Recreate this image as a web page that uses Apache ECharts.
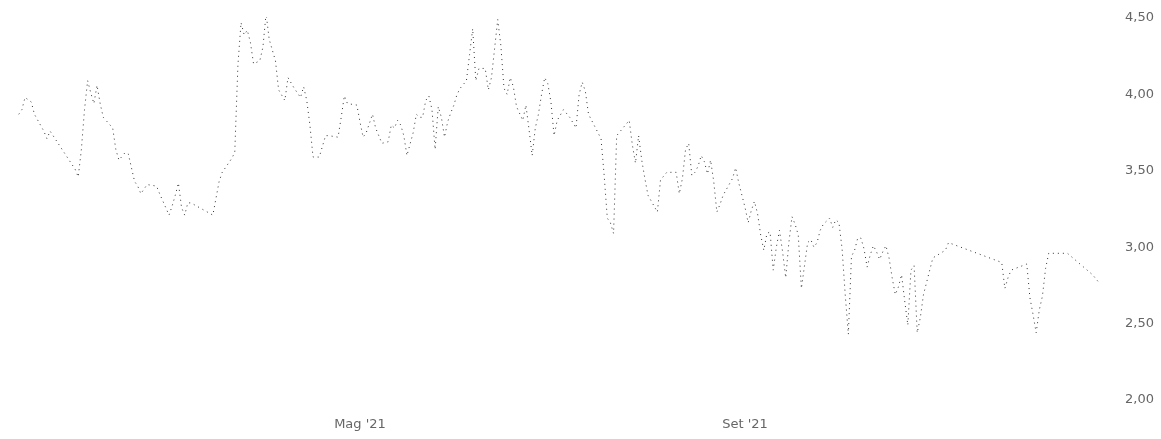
<!DOCTYPE html>
<html>
<head>
<meta charset="utf-8">
<script src="https://cdn.jsdelivr.net/npm/echarts@6/dist/echarts.min.js"></script>
<style>
html,body{margin:0;padding:0;background:#fff;}
#chart{width:1161px;height:439px;}
</style>
</head>
<body>
<div id="chart"></div>
<script>
// Italian month abbreviations used on the date axis
const monthNames = ['Gen','Feb','Mar','Apr','Mag','Giu','Lug','Ago','Set','Ott','Nov','Dic'];
// x-axis label positions (year 2021, month index, day)
const xTickMonths = [[2021, 4, 1], [2021, 8, 1]];
// y-axis tick values
const yTicks = [2.0, 2.5, 3.0, 3.5, 4.0, 4.5];
// days since 1 Jan 2021
const dayOffsets = [
 11,12,13,15,16,19,20,21,29,30,31,32,33,34,35,36,37,38,41,42,43,45,46,47,48,49,50,51,52,55,56,
 59,60,61,62,63,64,65,66,73,74,75,76,79,80,81,82,83,84,85,86,88,89,90,91,93,94,96,97,99,100,
 101,102,103,104,105,107,108,109,110,113,114,115,116,119,120,121,122,123,124,125,127,129,130,
 131,132,133,134,135,137,138,139,140,141,142,143,144,145,146,147,148,149,150,151,152,154,155,
 156,157,158,160,161,162,163,164,165,166,167,168,169,170,172,173,174,175,176,177,178,179,180,
 181,182,183,185,187,189,190,191,192,193,197,198,199,200,201,202,206,207,208,209,210,211,212,
 215,216,218,221,222,223,224,225,226,227,228,229,230,231,232,233,234,235,236,239,240,241,242,
 243,244,245,246,247,248,249,250,251,252,253,254,255,256,257,258,259,260,261,262,263,264,265,
 266,267,268,270,271,272,273,274,275,276,277,278,279,280,281,282,283,284,285,286,287,288,289,
 290,291,292,293,294,295,296,297,298,299,300,301,302,303,307,308,325,326,327,328,333,334,335,
 336,337,338,339,340,346,354,356
];
const prices = [
 3.87,3.90,3.98,3.95,3.87,3.76,3.71,3.76,3.51,3.46,3.64,3.90,4.09,4.01,3.94,4.06,3.94,3.85,3.78,3.64,3.57,3.62,3.61,3.52,3.43,3.40,3.35,3.38,3.41,3.40,3.35,
 3.21,3.27,3.34,3.42,3.26,3.21,3.29,3.29,3.21,3.32,3.43,3.49,3.58,3.62,4.19,4.47,4.39,4.42,4.34,4.20,4.22,4.31,4.53,4.36,4.22,4.03,3.96,4.11,4.04,4.01,
 3.98,4.05,3.96,3.80,3.59,3.59,3.66,3.73,3.73,3.72,3.85,3.99,3.94,3.93,3.82,3.72,3.75,3.81,3.87,3.78,3.68,3.69,3.80,
 3.78,3.83,3.80,3.73,3.60,3.75,3.87,3.85,3.85,3.96,3.99,3.90,3.64,3.92,3.85,3.72,3.82,3.88,3.93,4.00,4.04,4.09,4.26,
 4.43,4.09,4.17,4.17,4.03,4.11,4.30,4.49,4.32,4.04,4.00,4.11,4.05,3.92,3.83,3.93,3.77,3.60,3.78,3.87,4.00,4.11,4.07,
 3.95,3.73,3.83,3.90,3.85,3.78,4.00,4.08,4.02,3.87,3.71,3.47,3.19,3.16,3.09,3.73,3.83,3.67,3.55,3.73,3.57,3.45,3.34,
 3.23,3.44,3.49,3.49,3.35,3.45,3.64,3.68,3.47,3.49,3.53,3.60,3.56,3.48,3.57,3.43,3.23,3.28,3.34,3.45,3.52,3.42,3.34,
 3.26,3.16,3.24,3.30,3.22,3.08,2.98,3.09,3.10,2.85,3.00,3.11,2.97,2.80,3.03,3.20,3.15,3.08,2.73,2.88,3.03,3.05,3.00,
 3.03,3.11,3.15,3.19,3.13,3.18,3.16,2.99,2.69,2.43,2.94,2.98,3.06,3.06,2.99,2.87,2.95,3.01,2.97,2.92,2.97,3.01,2.93,
 2.80,2.69,2.74,2.82,2.65,2.49,2.85,2.88,2.44,2.54,2.69,2.77,2.85,2.93,2.98,3.03,2.90,2.73,2.80,2.85,2.89,2.67,2.56,
 2.44,2.59,2.68,2.86,2.96,2.96,2.82,2.77
];

const DAY = 86400000;
const base = new Date(2021, 0, 1).getTime();
const seriesData = dayOffsets.map((d, i) => [base + d * DAY, prices[i]]);
const xLabelValues = xTickMonths.map(m => new Date(m[0], m[1], m[2]).getTime());

const chart = echarts.init(document.getElementById('chart'), null, {renderer: 'canvas'});
chart.setOption({
  animation: false,
  backgroundColor: '#ffffff',
  grid: {left: 10, right: 45, top: 18, bottom: 39, containLabel: false},
  xAxis: {
    type: 'value',
    min: base + 8.2 * DAY,
    max: base + 361.5 * DAY,
    axisLine: {show: false},
    axisTick: {show: false, customValues: xLabelValues},
    splitLine: {show: false},
    axisLabel: {
      customValues: xLabelValues,
      margin: 18,
      color: '#666',
      fontSize: 13,
      fontFamily: 'DejaVu Sans',
      formatter: function (v) {
        const d = new Date(v);
        return monthNames[d.getMonth()] + " '" + String(d.getFullYear()).slice(2);
      }
    }
  },
  yAxis: {
    type: 'value',
    position: 'right',
    min: yTicks[0],
    max: yTicks[yTicks.length - 1],
    interval: 0.5,
    axisLine: {show: false},
    axisTick: {show: false},
    splitLine: {show: false},
    axisLabel: {
      margin: 9,
      color: '#666',
      fontSize: 13,
      fontFamily: 'DejaVu Sans',
      formatter: v => v.toFixed(2).replace('.', ',')
    }
  },
  series: [{
    type: 'line',
    data: seriesData,
    showSymbol: false,
    symbol: 'none',
    lineStyle: {color: '#333', width: 1, type: [1, 4]}
  }]
});
</script>
</body>
</html>
